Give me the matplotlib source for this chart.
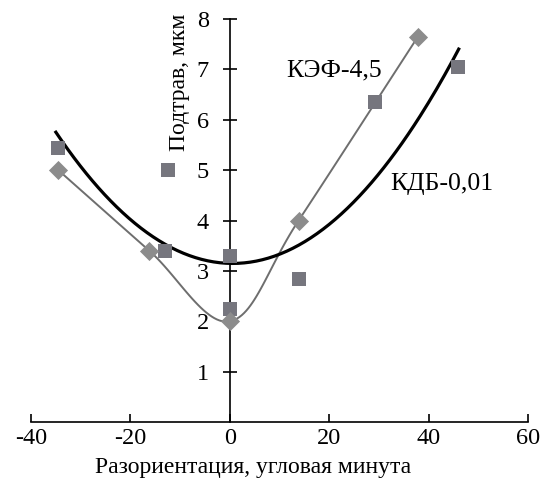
import numpy as np
import matplotlib
matplotlib.use("Agg")
import matplotlib.pyplot as plt

plt.rcParams['font.family'] = ['Liberation Serif', 'DejaVu Serif']

# Data
kef_x = [-34.5, -16.2, 0.0, 13.8, 37.8]
kef_y = [5.0, 3.4, 2.0, 4.0, 7.65]
kdb_x = [-34.5, -12.5, -13.0, 0.0, 0.0, 13.8, 29.2, 45.8]
kdb_y = [5.45, 5.0, 3.4, 3.3, 2.25, 2.85, 6.35, 7.05]
# quadratic trendline of КДБ-0,01 (a, b, c) and its x-range
kdb_trend_coef = [0.00206, -0.0023, 3.15]
kdb_trend_range = [-35, 46]
xticks = [-40, -20, 0, 20, 40, 60]
yticks = [1, 2, 3, 4, 5, 6, 7, 8]

fig = plt.figure(figsize=(5.4, 4.88), dpi=100)
ax = fig.add_axes([0.0574, 0.135, 0.921, 0.826])
ax.set_xlim(-40, 60)
ax.set_ylim(0, 8)

tx = np.linspace(kdb_trend_range[0], kdb_trend_range[1], 200)
ax.plot(tx, np.polyval(kdb_trend_coef, tx), color='black', lw=2.3, zorder=3)

# smoothed line through КЭФ points (Catmull-Rom in display space)
fig.canvas.draw()
pts = ax.transData.transform(np.column_stack([kef_x, kef_y]))
P = np.vstack([pts[0] - (pts[1] - pts[0]), pts, pts[-1] + (pts[-1] - pts[-2])])
curve = []
for i in range(1, len(P) - 2):
    p0, p1, p2, p3 = P[i - 1], P[i], P[i + 1], P[i + 2]
    for t in np.linspace(0, 1, 30):
        t2, t3 = t * t, t * t * t
        c = 0.5 * ((2 * p1) + (-p0 + p2) * t + (2 * p0 - 5 * p1 + 4 * p2 - p3) * t2
                   + (-p0 + 3 * p1 - 3 * p2 + p3) * t3)
        curve.append(c)
curve = ax.transData.inverted().transform(np.array(curve))
ax.plot(curve[:, 0], curve[:, 1], color='#6e6e6e', lw=1.4, zorder=2)

ax.scatter(kdb_x, kdb_y, marker='s', s=105, color='#76767e', zorder=4, linewidths=0)
ax.scatter(kef_x, kef_y, marker='D', s=95, color='#8c8c8c', zorder=5, linewidths=0)

for side in ['top', 'right']:
    ax.spines[side].set_visible(False)
ax.spines['left'].set_position(('data', 0))
ax.spines['bottom'].set_position(('data', 0))
ax.spines['left'].set_linewidth(1.2)
ax.spines['bottom'].set_linewidth(1.2)
ax.set_xticks(xticks)
ax.set_yticks(yticks)
ax.tick_params(axis='x', direction='in', length=6, width=1.2, labelsize=17.5, pad=4)
ax.tick_params(axis='y', direction='inout', length=10, width=1.2, labelsize=17.5, pad=10)
ax.set_xticklabels([str(v) for v in xticks])

fig.text(0.469, 0.043, 'Разориентация, угловая минута', ha='center', va='center', fontsize=17)
ax.text(-10.2, 6.75, 'Подтрав, мкм', rotation=90, ha='center', va='center', fontsize=17)
ax.text(21, 6.97, 'КЭФ-4,5', ha='center', va='center', fontsize=18.5)
ax.text(32.2, 4.73, 'КДБ-0,01', ha='left', va='center', fontsize=18.5)

fig.savefig('out.png', dpi=100)
